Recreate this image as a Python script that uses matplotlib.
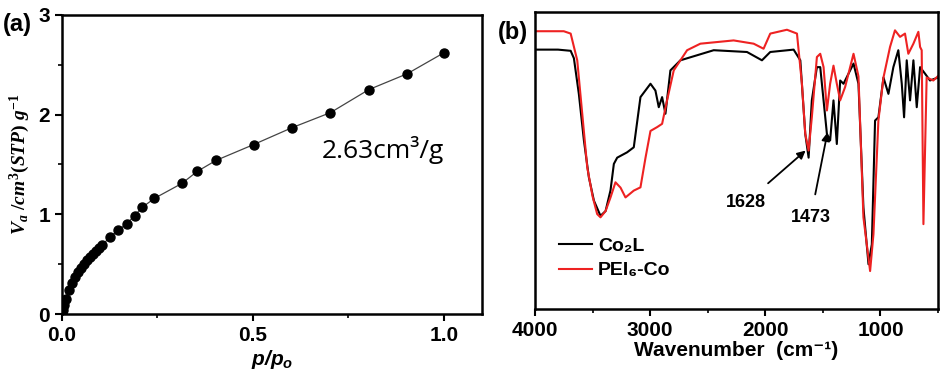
import matplotlib
matplotlib.use("Agg")
import matplotlib.pyplot as plt

# panel (a): adsorption isotherm
p_rel = [0.001, 0.003, 0.006, 0.010, 0.018, 0.026, 0.034, 0.042, 0.050, 0.058,
         0.066, 0.074, 0.082, 0.090, 0.098, 0.105, 0.125, 0.147, 0.169, 0.190,
         0.210, 0.242, 0.314, 0.354, 0.403, 0.502, 0.603, 0.703, 0.803, 0.904, 1.0]
v_ads = [0.01, 0.04, 0.09, 0.15, 0.24, 0.31, 0.37, 0.42, 0.46, 0.50,
         0.54, 0.57, 0.60, 0.63, 0.66, 0.69, 0.77, 0.84, 0.905, 0.986,
         1.07, 1.16, 1.31, 1.43, 1.54, 1.70, 1.87, 2.02, 2.25, 2.41, 2.62]

# panel (b): FTIR spectra (transmittance, arbitrary units)
wn_co2l = [4000, 3800, 3690, 3662, 3619, 3575, 3532, 3488, 3431, 3387, 3344, 3315,
           3286, 3200, 3142, 3084, 2997, 2954, 2925, 2896, 2867, 2824, 2737, 2448,
           2159, 2029, 1957, 1754, 1696, 1653, 1624, 1596, 1552, 1523, 1465, 1437,
           1408, 1379, 1350, 1321, 1234, 1191, 1148, 1104, 1075, 1047, 1018, 974,
           931, 888, 845, 815, 795, 772, 743, 714, 685, 656, 613, 570, 500]
tr_co2l = [87.4, 87.4, 87.0, 84.5, 72.5, 56.8, 44.4, 36.5, 31.4, 33.0, 40.0, 48.9,
           51.0, 52.8, 54.5, 71.4, 75.9, 73.6, 68.0, 71.4, 65.8, 80.4, 83.8, 87.2,
           86.6, 83.8, 86.6, 87.4, 83.8, 59.0, 51.0, 70.3, 81.5, 81.5, 59.0, 56.8,
           70.3, 55.6, 77.0, 75.9, 82.7, 75.9, 34.2, 15.1, 21.8, 63.5, 64.6, 78.0,
           72.5, 81.5, 87.2, 75.9, 64.6, 83.8, 70.3, 83.8, 68.0, 81.5, 79.3, 77.0, 78.0]

wn_pei = [4000, 3750, 3690, 3633, 3590, 3546, 3500, 3460, 3431, 3387, 3344, 3301,
          3257, 3214, 3142, 3084, 3040, 2997, 2939, 2896, 2853, 2795, 2679, 2564,
          2275, 2101, 2015, 1957, 1812, 1725, 1682, 1653, 1624, 1596, 1552, 1523,
          1494, 1465, 1437, 1408, 1379, 1350, 1307, 1234, 1191, 1148, 1090, 1061,
          1018, 974, 917, 874, 830, 787, 758, 714, 671, 656, 642, 627, 599, 541, 500]
tr_pei = [93.6, 93.6, 92.8, 83.8, 66.0, 47.7, 38.0, 32.0, 30.9, 33.0, 37.6, 42.7,
          40.9, 37.6, 39.9, 41.0, 51.0, 60.0, 61.3, 62.4, 70.3, 80.4, 87.2, 89.4,
          90.5, 89.4, 87.7, 92.8, 94.1, 92.8, 75.9, 59.0, 53.4, 64.6, 84.9, 86.0,
          81.5, 66.9, 75.9, 82.0, 75.9, 70.3, 74.8, 86.0, 78.4, 30.9, 12.8, 25.2,
          63.5, 78.0, 88.3, 93.9, 91.7, 92.8, 86.0, 89.4, 93.4, 88.3, 87.2, 28.6,
          78.0, 77.0, 78.5]

plt.rcParams['font.family'] = ['Liberation Sans', 'DejaVu Sans']
plt.rcParams['font.weight'] = 'bold'
plt.rcParams['axes.labelweight'] = 'bold'
plt.rcParams['mathtext.fontset'] = 'custom'
plt.rcParams['mathtext.it'] = 'Liberation Serif:italic:bold'
plt.rcParams['mathtext.rm'] = 'Liberation Serif:bold'
plt.rcParams['mathtext.sf'] = 'Liberation Sans:italic:bold'

fig = plt.figure(figsize=(9.44, 3.82), dpi=100)

# ---- (a)
ax1 = fig.add_axes([0.0657, 0.178, 0.445, 0.783])
ax1.plot(p_rel, v_ads, '-', color='#444444', lw=0.9, marker='o', ms=6.5,
         mfc='black', mec='black')
ax1.set_xlim(0, 1.1)
ax1.set_ylim(0, 3)
ax1.set_xticks([0.0, 0.5, 1.0])
ax1.set_xticks([0.25, 0.75], minor=True)
ax1.set_yticks([0, 1, 2, 3])
ax1.set_yticks([0.5, 1.5, 2.5], minor=True)
ax1.tick_params(which='major', direction='out', length=5, width=1.5, labelsize=15)
ax1.tick_params(which='minor', direction='out', length=3, width=1.2)
for s in ax1.spines.values():
    s.set_linewidth(1.8)
ax1.set_xlabel(r'$\mathsf{p/p_o}$', fontsize=15, labelpad=2)
ax1.set_ylabel(r'$V_a\ /cm^3(STP)\ g^{-1}$', fontsize=14, labelpad=5)
ax1.text(0.68, 1.64, '2.63cm³/g', fontsize=19, family='Open Sans',
         weight='normal', va='center', ha='left')
fig.text(0.003, 0.935, '(a)', fontsize=17, weight='bold', va='center', ha='left')

# ---- (b)
ax2 = fig.add_axes([0.5667, 0.191, 0.427, 0.777])
ax2.plot(wn_co2l, tr_co2l, color='black', lw=1.5, label='Co₂L')
ax2.plot(wn_pei, tr_pei, color='#ee2222', lw=1.5, label='PEI₆-Co')
ax2.set_xlim(4000, 500)
ax2.set_ylim(0, 100)
ax2.set_xticks([4000, 3000, 2000, 1000])
ax2.set_xticks([3500, 2500, 1500, 500], minor=True)
ax2.set_yticks([])
ax2.tick_params(which='major', direction='out', length=5, width=1.5, labelsize=15)
ax2.tick_params(which='minor', direction='out', length=3, width=1.2)
for s in ax2.spines.values():
    s.set_linewidth(1.8)
ax2.set_xlabel('Wavenumber  (cm⁻¹)', fontsize=15, fontweight='bold', labelpad=1)

ax2.annotate('1628', xy=(1650, 53.4), xytext=(2170, 35.8), fontsize=13,
             weight='bold', ha='center', va='center',
             arrowprops=dict(arrowstyle='-|>', color='black', lw=1.3,
                             shrinkA=9, shrinkB=0, mutation_scale=12))
ax2.annotate('1473', xy=(1460, 59.5), xytext=(1607, 30.7), fontsize=13,
             weight='bold', ha='center', va='center',
             arrowprops=dict(arrowstyle='-|>', color='black', lw=1.3,
                             shrinkA=9, shrinkB=0, mutation_scale=12))

ax2.legend(loc='lower left', bbox_to_anchor=(0.06, 0.1), frameon=False,
           prop={'size': 14, 'weight': 'bold'}, handlelength=1.7,
           handletextpad=0.3, labelspacing=0.35, borderpad=0, borderaxespad=0)
fig.text(0.527, 0.915, '(b)', fontsize=17, weight='bold', va='center', ha='left')

fig.savefig('out.png', dpi=100)
